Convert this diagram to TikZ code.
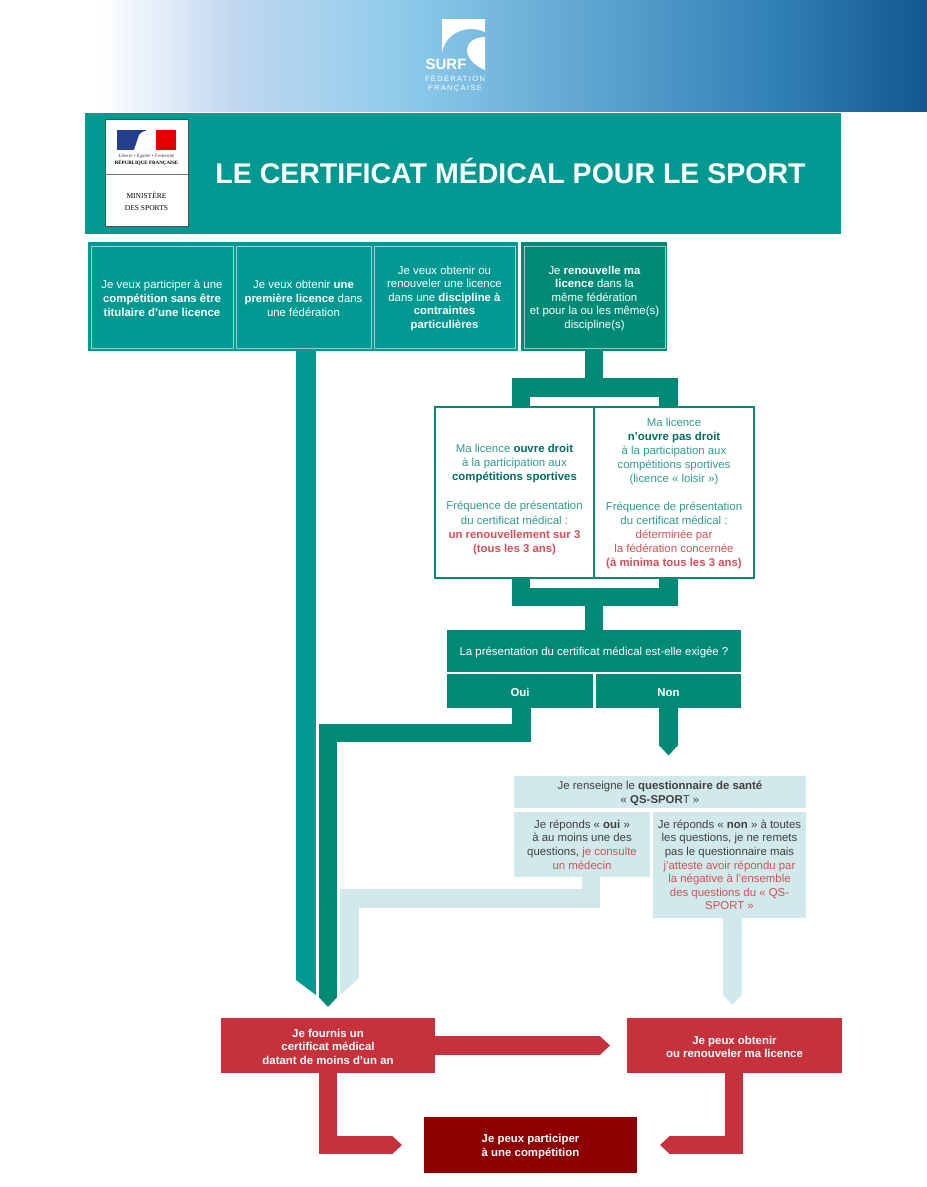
\documentclass[tikz,border=0pt]{standalone}
\usepackage{fontspec}
\setmainfont{Liberation Sans}
\newfontfamily\serifmark{Liberation Serif}
\newfontfamily\logofont[LetterSpace=18]{Liberation Sans}
\usetikzlibrary{arrows.meta,positioning}

\definecolor{bandteal}{HTML}{009991}
\definecolor{deepteal}{HTML}{008A76}
\definecolor{paleteal}{HTML}{D1E9EA}
\definecolor{softgreen}{HTML}{2F9C8B}
\definecolor{hardgreen}{HTML}{00705F}
\definecolor{redbox}{HTML}{C6323C}
\definecolor{deepred}{HTML}{8E0000}
\definecolor{softred}{HTML}{D2505A}
\definecolor{flagblue}{HTML}{23408F}
\definecolor{bannerpale}{HTML}{C3D8F0}
\definecolor{bannersky}{HTML}{8ECBEB}
\definecolor{bannermid}{HTML}{2F7FB6}
\definecolor{bannerdeep}{HTML}{14578F}

\newcommand{\bodysize}{\fontsize{11.4}{13.6}\selectfont}
\newcommand{\topline}{\rule{0pt}{11pt}}

\tikzset{
    size/.style 2 args={minimum width=#1,minimum height=#2},
    plain/.style={inner sep=0pt,outer sep=0pt,align=center,font=\bodysize},
    lowered/.style={execute at begin node={\rule{0pt}{11pt}}},
    strong/.style={font=\bodysize\bfseries},
    tealbox/.style={plain,fill=bandteal,text=white},
    tealcell/.style={tealbox,draw=paleteal!70!bandteal,line width=.8pt},
    deepbox/.style={plain,fill=deepteal,text=white},
    palebox/.style={plain,fill=paleteal,text=black!75},
    redcard/.style={plain,strong,fill=redbox,text=white},
    opencell/.style={plain,fill=white,draw=deepteal,line width=1.4pt,text=softgreen,font=\fontsize{11.4}{14}\selectfont},
    bar/.style={line width=18.5pt},
    flow/.style={bar,-{Triangle[length=10pt,width=18.5pt,line width=0pt]}}
}

\begin{document}
\begin{tikzpicture}[x=1pt,y=-1pt]
    \useasboundingbox (0,0) rectangle (927,1187);

    \shade[left color=white,right color=bannerpale] (100,0) rectangle (230,111);
    \shade[left color=bannerpale,right color=bannersky] (230,0) rectangle (400,111);
    \shade[left color=bannersky,right color=bannermid] (400,0) rectangle (780,111);
    \shade[left color=bannermid,right color=bannerdeep] (780,0) rectangle (927,111);
    \fill[white] (442,19) -- (485,19) -- (485,32) .. controls (470,25) and (446,30) .. (442,53) -- cycle;
    \fill[white] (485,37) .. controls (461,38) and (461,60) .. (485,70) -- cycle;
    \node[plain,text=white,font=\fontsize{15}{16}\selectfont\bfseries] at (446,64.5)(surf){SURF};
    \node[plain,text=white,font=\fontsize{7.5}{10}\logofont] at (455,78)(federation){FÉDÉRATION};
    \node[plain,text=white,font=\fontsize{7.5}{10}\logofont] at (455,88.5)(francaise){FRANÇAISE};

    \node[plain,fill=bandteal,size={756pt}{121pt}] at (463,173.5)(band){};
    \node[plain,text=white,font=\fontsize{28.5}{30}\selectfont\bfseries] at (510.5,171.5)(title){LE CERTIFICAT MÉDICAL POUR LE SPORT};
    \node[plain,fill=white,draw=black!70,line width=.8pt,size={83pt}{107pt}] at (146.5,173)(mark){};
    \draw[black!55,line width=1pt] (mark.west |- 0,174.5) -- (mark.east |- 0,174.5);
    \fill[flagblue] (117,130) rectangle (146,150);
    \fill[red!90!black] (156,130) rectangle (176,150);
    \fill[white] (134,150) -- (139,135) .. controls (144,129) and (152,129) .. (154,135) -- (156,143) -- (150,150) -- cycle;
    \node[plain,text=black!80,font=\fontsize{4.8}{6}\serifmark\itshape] at (146.5,155.5)(motto){Liberté • Égalité • Fraternité};
    \node[plain,text=black,font=\fontsize{5}{6}\serifmark\bfseries] at (146.5,162.5)(republic){RÉPUBLIQUE FRANÇAISE};
    \node[plain,text=black,font=\fontsize{7.5}{12}\serifmark] at (146.5,201)(ministry){MINISTÈRE\\DES SPORTS};

    \node[tealbox,size={430pt}{109pt}] at (303,296.5)(firstgroup){};
    \node[tealcell,size={142pt}{102pt}] at (162,297)(contest){\topline Je veux participer à une\\\textbf{compétition sans être}\\\textbf{titulaire d’une licence}};
    \node[tealcell,size={135pt}{102pt}] at (303.5,297)(firstlicence){\topline Je veux obtenir \textbf{une}\\\textbf{première licence} dans\\une fédération};
    \node[tealcell,size={141pt}{102pt}] at (444.5,297)(constraint){\topline Je veux obtenir ou\\renouveler une licence\\dans une \textbf{discipline à}\\\textbf{contraintes}\\\textbf{particulières}};
    \node[deepbox,size={146pt}{109pt}] at (594,296.5)(renewback){};
    \node[deepbox,draw=paleteal!70!deepteal,line width=.8pt,size={141pt}{102pt}] at (594.5,297)(renew){\topline Je \textbf{renouvelle ma}\\\textbf{licence} dans la\\même fédération\\et pour la ou les même(s)\\discipline(s)};

    \node[opencell,font=\fontsize{11.4}{14.4}\selectfont,size={159pt}{171pt}] at (514.5,492.5)(rightsyes){~\\[8pt]Ma licence \textcolor{hardgreen}{\textbf{ouvre droit}}\\à la participation aux\\\textcolor{hardgreen}{\textbf{compétitions sportives}}\\~\\Fréquence de présentation\\du certificat médical :\\\textcolor{softred}{\textbf{un renouvellement sur 3}}\\\textcolor{softred}{\textbf{(tous les 3 ans)}}};
    \node[opencell,size={160pt}{171pt}] at (674,492.5)(rightsno){\topline Ma licence\\\textcolor{hardgreen}{\textbf{n’ouvre pas droit}}\\à la participation aux\\compétitions sportives\\(licence « loisir »)\\~\\Fréquence de présentation\\du certificat médical :\\\textcolor{softred}{déterminée par}\\\textcolor{softred}{la fédération concernée}\\\textcolor{softred}{\textbf{(à minima tous les 3 ans)}}};

    \node[deepbox,lowered,size={294pt}{42pt}] at (594,651)(question){La présentation du certificat médical est-elle exigée ?};
    \node[deepbox,lowered,strong,size={146pt}{34pt}] at (520,691)(oui){Oui};
    \node[deepbox,lowered,strong,size={145pt}{34pt}] at (668.5,691)(non){Non};

    \node[palebox,size={292pt}{32pt}] at (660,792)(survey){\topline Je renseigne le \textbf{questionnaire de santé}\\« \textbf{QS-SPOR}T »};
    \node[palebox,size={136pt}{65pt}] at (582,844.5)(answeryes){Je réponds « \textbf{oui} »\\à au moins une des\\questions, \textcolor{softred}{je consulte}\\\textcolor{softred}{un médecin}};
    \node[palebox,size={153pt}{106pt}] at (729.5,865)(answerno){Je réponds « \textbf{non} » à toutes\\les questions, je ne remets\\pas le questionnaire mais\\\textcolor{softred}{j’atteste avoir répondu par}\\\textcolor{softred}{la négative à l’ensemble}\\\textcolor{softred}{des questions du « QS-}\\\textcolor{softred}{SPORT »}};

    \node[redcard,size={214pt}{55pt}] at (328,1045.5)(certificate){\topline Je fournis un\\certificat médical\\datant de moins d’un an};
    \node[redcard,size={215pt}{55pt}] at (734.5,1045.5)(obtain){\topline Je peux obtenir\\ou renouveler ma licence};
    \node[plain,strong,fill=deepred,text=white,size={213pt}{56pt}] at (530.5,1145)(compete){\topline Je peux participer\\à une compétition};

    \coordinate (branchtop) at (594,387.5);
    \coordinate (openleft) at (520.75,407);
    \coordinate (openright) at (668.5,407);
    \coordinate (closeleft) at (520.75,578);
    \coordinate (closeright) at (668.5,578);
    \coordinate (mergeup) at (594,597);
    \coordinate (licenceend) at (306,980);
    \coordinate (ouibend) at (328,733);
    \coordinate (ouitip) at (328,1007);
    \coordinate (nontip) at (668.5,755.5);
    \coordinate (palebend) at (349.5,898.5);
    \coordinate (paleend) at (349.5,978);
    \coordinate (notip) at (732.5,1005);
    \coordinate (certtip) at (610,1045.5);

    \draw[bar,bandteal,line width=20pt] ([xshift=3pt]firstgroup.south) -- (licenceend);
    \fill[bandteal] (licenceend) ++(-10,0) -- ++(20,0) -- ++(0,15) -- cycle;
    \draw[bar,deepteal] (renewback.south) -- (branchtop);
    \draw[bar,deepteal] (openleft) |- (branchtop) -| (openright);
    \draw[bar,deepteal] (closeleft) |- (mergeup) -| (closeright);
    \draw[bar,deepteal] (mergeup) -- (question.north);
    \draw[flow,deepteal] ([xshift=1.5pt]oui.south) |- (ouibend) -- (ouitip);
    \draw[flow,deepteal] (non.south) -- (nontip);
    \draw[bar,paleteal] ([xshift=9pt]answeryes.south) |- (palebend) -- (paleend);
    \fill[paleteal] (paleend) ++(-9.25,0) -- ++(18.5,0) -- ++(-18.5,17) -- cycle;
    \draw[flow,paleteal] ([xshift=3pt]answerno.south) -- (notip);
    \draw[flow,redbox] (certificate.east) -- (certtip);
    \draw[flow,redbox] (certificate.south) |- ([xshift=-22pt]compete.west);
    \draw[flow,redbox] ([xshift=-.75pt]obtain.south) |- ([xshift=23pt]compete.east);
\end{tikzpicture}
\end{document}
